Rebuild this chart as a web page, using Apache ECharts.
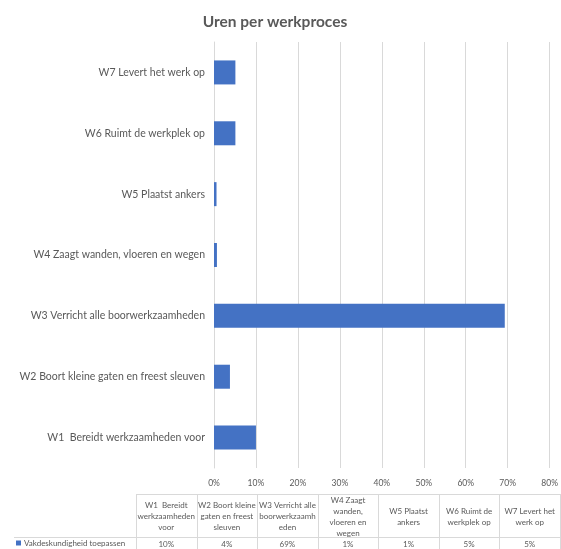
<!DOCTYPE html>
<html>
<head>
    <meta charset="utf-8" />
    <title>Uren per werkproces</title>
    <script src="https://cdn.jsdelivr.net/npm/echarts@6/dist/echarts.min.js"></script>
    <style>
        html, body { margin: 0; padding: 0; background: #fff; }
    </style>
</head>
<body>
    <div id="chart" style="width:561px;height:549px;"></div>
    <script>
        // categories (bottom to top on the y axis)
        var categories = [
            'W1  Bereidt werkzaamheden voor',
            'W2 Boort kleine gaten en freest sleuven',
            'W3 Verricht alle boorwerkzaamheden',
            'W4 Zaagt wanden, vloeren en wegen',
            'W5 Plaatst ankers',
            'W6 Ruimt de werkplek op',
            'W7 Levert het werk op'
        ];
        // header text of the data table, wrapped as in the picture
        var tableHeaders = [
            'W1  Bereidt\nwerkzaamheden\nvoor',
            'W2 Boort kleine\ngaten en freest\nsleuven',
            'W3 Verricht alle\nboorwerkzaamh\neden',
            'W4 Zaagt\nwanden,\nvloeren en\nwegen',
            'W5 Plaatst\nankers',
            'W6 Ruimt de\nwerkplek op',
            'W7 Levert het\nwerk op'
        ];
        var seriesName = 'Vakdeskundigheid toepassen';
        var values = [0.10, 0.038, 0.693, 0.007, 0.006, 0.051, 0.051];
        var tableValues = ['10%', '4%', '69%', '1%', '1%', '5%', '5%'];
        var xTicks = [0, 0.1, 0.2, 0.3, 0.4, 0.5, 0.6, 0.7, 0.8];

        var textColor = '#595959';
        var lineColor = '#d9d9d9';
        var barColor = '#4472C4';
        var font = 'Lato, "Open Sans", sans-serif';

        // data table drawn below the chart
        var tLeft = 136, tRight = 560, tTop = 494, tMid = 537, tBottom = 549;
        var colW = (tRight - tLeft) / tableHeaders.length;
        var graphics = [];
        function hline(x1, x2, y) {
            graphics.push({ type: 'line', shape: { x1: x1, y1: y, x2: x2, y2: y },
                style: { stroke: lineColor, lineWidth: 1 }, silent: true });
        }
        function vline(x, y1, y2) {
            graphics.push({ type: 'line', shape: { x1: x, y1: y1, x2: x, y2: y2 },
                style: { stroke: lineColor, lineWidth: 1 }, silent: true });
        }
        hline(tLeft, tRight, tTop + 0.5);
        hline(14, tRight, tMid + 0.5);
        for (var i = 0; i <= tableHeaders.length; i++) {
            vline(Math.round(tLeft + i * colW) + 0.5, tTop, tBottom);
        }
        tableHeaders.forEach(function (h, i) {
            var cx = tLeft + (i + 0.5) * colW;
            graphics.push({
                type: 'text', x: cx, y: (tTop + tMid) / 2 + 1, silent: true,
                style: { text: h, align: 'center', verticalAlign: 'middle',
                    fill: textColor, font: '8px ' + font, lineHeight: 11 }
            });
            graphics.push({
                type: 'text', x: cx, y: (tMid + tBottom) / 2 + 1, silent: true,
                style: { text: tableValues[i], align: 'center', verticalAlign: 'middle',
                    fill: textColor, font: '8px ' + font }
            });
        });

        var chart = echarts.init(document.getElementById('chart'));
        chart.setOption({
            animation: false,
            title: {
                text: 'Uren per werkproces',
                left: 270, textAlign: 'center', top: 9,
                textStyle: { color: textColor, fontSize: 15.5, fontWeight: 'bold', fontFamily: font }
            },
            legend: {
                data: [seriesName],
                left: 16, top: 539, padding: 0,
                icon: 'rect', itemWidth: 5, itemHeight: 5, itemGap: 3,
                textStyle: { color: textColor, fontSize: 8, fontFamily: font, padding: [0, 0, 0, -2] }
            },
            grid: { left: 214, right: 8, top: 42, bottom: 81, containLabel: false },
            xAxis: {
                type: 'value', min: 0, max: 0.8, interval: 0.1,
                axisLine: { show: false }, axisTick: { show: false },
                splitLine: { lineStyle: { color: lineColor } },
                axisLabel: {
                    color: textColor, fontSize: 8.5, fontFamily: font, margin: 11,
                    formatter: function (v) { return Math.round(v * 100) + '%'; },
                    customValues: xTicks
                }
            },
            yAxis: {
                type: 'category', data: categories,
                axisLine: { lineStyle: { color: lineColor } }, axisTick: { show: false },
                axisLabel: { color: textColor, fontSize: 10.5, fontFamily: font, margin: 9 }
            },
            series: [{
                name: seriesName, type: 'bar', data: values,
                barWidth: 24, itemStyle: { color: barColor }
            }],
            graphic: graphics
        });
    </script>
</body>
</html>
